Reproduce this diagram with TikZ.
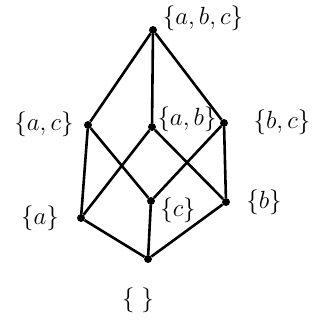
\documentclass[tikz,border=0pt]{standalone}
\usepackage{amsmath}
\usetikzlibrary{arrows.meta}

\begin{document}
\begin{tikzpicture}[x=1pt,y=-1pt]
\useasboundingbox (0,0) rectangle (328,329);
\begin{scope}[every node/.style={circle,fill=black,inner sep=2.8pt}]
    \node (abc) at (153, 30) {};
    \node (ac) at (88, 125) {};
    \node (ab) at (152, 127) {};
    \node (bc) at (224, 123) {};
    \node (a) at (81, 218) {};
    \node (c) at (151, 201) {};
    \node (b) at (226, 202) {};
    \node (e) at (148, 259) {};
\end{scope}
\begin{scope}[every node/.style={font=\fontsize{25}{30}\selectfont}]
    \node (labc) at (203, 18) {$\{a,b,c\}$};
    \node (lac) at (44, 124) {$\{a,c\}$};
    \node (lab) at (187, 119) {$\{a,b\}$};
    \node (lbc) at (282, 122) {$\{b,c\}$};
    \node (la) at (40, 218) {$\{a\}$};
    \node (lc) at (178, 210) {$\{c\}$};
    \node (lb) at (264, 202) {$\{b\}$};
    \node (le) at (138, 300) {$\{\;\}$};
\end{scope}
\begin{scope}[black_edge/.style={draw=black,line width=2.6pt}]
    \path (abc) edge [black_edge] (ac);
    \path (abc) edge [black_edge] (ab);
    \path (abc) edge [black_edge] (bc);
    \path (ac) edge [black_edge] (a);
    \path (ac) edge [black_edge] (c);
    \path (ab) edge [black_edge] (a);
    \path (ab) edge [black_edge] (b);
    \path (bc) edge [black_edge] (c);
    \path (bc) edge [black_edge] (b);
    \path (a) edge [black_edge] (e);
    \path (c) edge [black_edge] (e);
    \path (b) edge [black_edge] (e);
\end{scope}
\end{tikzpicture}
\end{document}
